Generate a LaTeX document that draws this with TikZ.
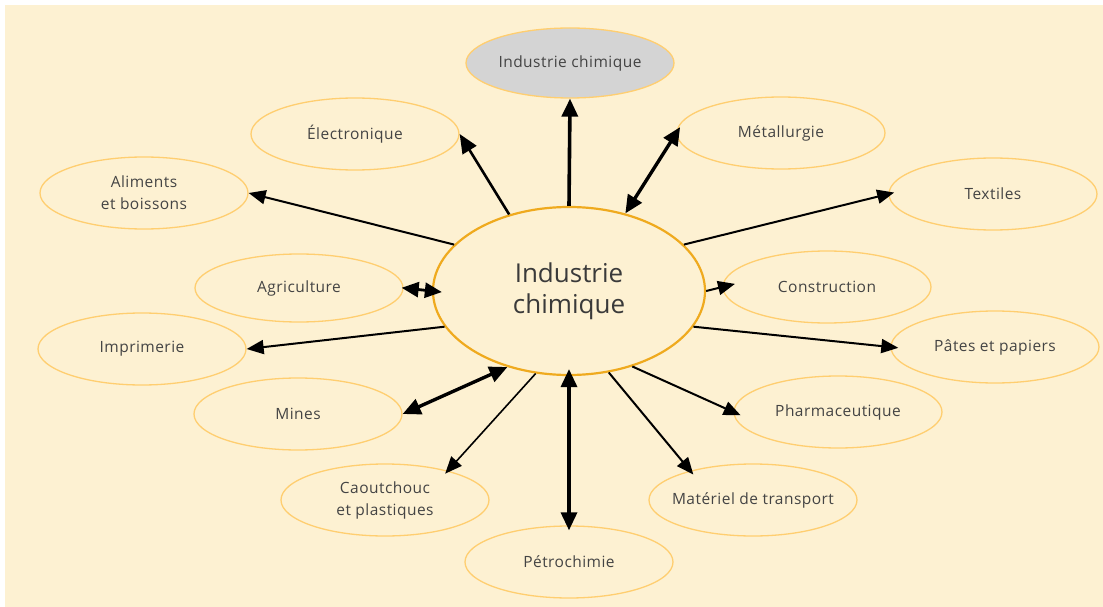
\documentclass[tikz,border=0pt]{standalone}
\usepackage{fontspec}
\setmainfont{Open Sans}
\newfontfamily\labfont[LetterSpace=3]{Open Sans}
\usetikzlibrary{shapes.geometric,arrows.meta}
\definecolor{bgcream}{HTML}{FDF1D2}
\definecolor{outerline}{HTML}{FFCE70}
\definecolor{centerline}{HTML}{EFAA1E}
\definecolor{labgray}{HTML}{444444}
\definecolor{topfill}{HTML}{D4D4D4}
\tikzset{
  sector/.style={ellipse, draw=outerline, line width=1.3pt, minimum width=208pt, minimum height=72pt, inner sep=0pt, align=center, text=labgray, font=\labfont\fontsize{15.5}{22}\selectfont},
  hub/.style={ellipse, draw=centerline, line width=2.2pt, minimum width=272pt, minimum height=168pt, inner sep=0pt, align=center, text=labgray!85!black, font=\fontsize{26}{31}\selectfont},
  thickarrow/.style={line width=3.6pt, -{Triangle[length=18pt,width=16pt]}},
  medarrow/.style={line width=2.6pt, -{Triangle[length=19pt,width=16pt]}},
  normarrow/.style={line width=2pt, -{Triangle[length=17pt,width=14pt]}},
  thinarrow/.style={line width=1.6pt, -{Triangle[length=17pt,width=14pt]}},
  thickdouble/.style={line width=3.4pt, {Triangle[length=18pt,width=16pt]}-{Triangle[length=18pt,width=16pt]}},
}
\begin{document}
\begin{tikzpicture}[x=1pt,y=-1pt]
\useasboundingbox (0,0) rectangle (1103,607);
\fill[white] (0,0) rectangle (1103,607);
\fill[bgcream] (5,5) rectangle (1103,607);

\node[hub] (c) at (569,291) {Industrie\\chimique};
\node[sector, fill=topfill, minimum height=70pt] (top) at (570,63) {Industrie chimique};
\node[sector] (elec) at (355,134) {Électronique};
\node[sector] (met) at (781,133) {Métallurgie};
\node[sector] (ali) at (144,193) {Aliments\\et boissons};
\node[sector] (tex) at (993,194) {Textiles};
\node[sector, minimum height=68pt] (agr) at (299,288) {Agriculture};
\node[sector] (cons) at (827,287) {Construction};
\node[sector] (imp) at (142,349) {Imprimerie};
\node[sector, inner xsep=-10pt] (pat) at (995,347) {Pâtes et papiers};
\node[sector] (min) at (298,414) {Mines};
\node[sector] (pha) at (838,412) {Pharmaceutique};
\node[sector] (cao) at (385,500) {Caoutchouc\\et plastiques};
\node[sector, inner xsep=-22pt] (mat) at (753,500) {Matériel de transport};
\node[sector] (pet) at (569,562) {Pétrochimie};

\draw[thickarrow] (c.north) -- (top.south);
\draw[thickdouble, shorten >=-7pt] (c.54) -- (met.west);
\draw[medarrow] (c.128.5) -- (elec.east);
\draw[normarrow] (c.158) -- (ali.east);
\draw[normarrow, shorten >=-6pt] (c.22.5) -- (tex.west);
\draw[line width=2.8pt, {Triangle[length=17pt,width=15pt]}-{Triangle[length=17pt,width=15pt]}, shorten <=-2pt, shorten >=-10pt] (agr.east) -- (c.west);
\draw[normarrow, shorten >=-13pt] (c.east) -- (cons.west);
\draw[normarrow] (c.196.6) -- (imp.east);
\draw[normarrow, shorten >=-8pt] (c.-16.6) -- (pat.west);
\draw[thickdouble] (c.231.9) -- (min.east);
\draw[thinarrow, shorten >=-4pt] (c.248) -- (cao.25);
\draw[thickdouble, shorten <=-7pt, shorten >=-5pt] (c.south) -- (pet.north);
\draw[normarrow, shorten >=-8pt] (c.-50.3) -- (pha.west);
\draw[normarrow, shorten >=-5pt] (c.-64.9) -- (mat.155);
\end{tikzpicture}
\end{document}
